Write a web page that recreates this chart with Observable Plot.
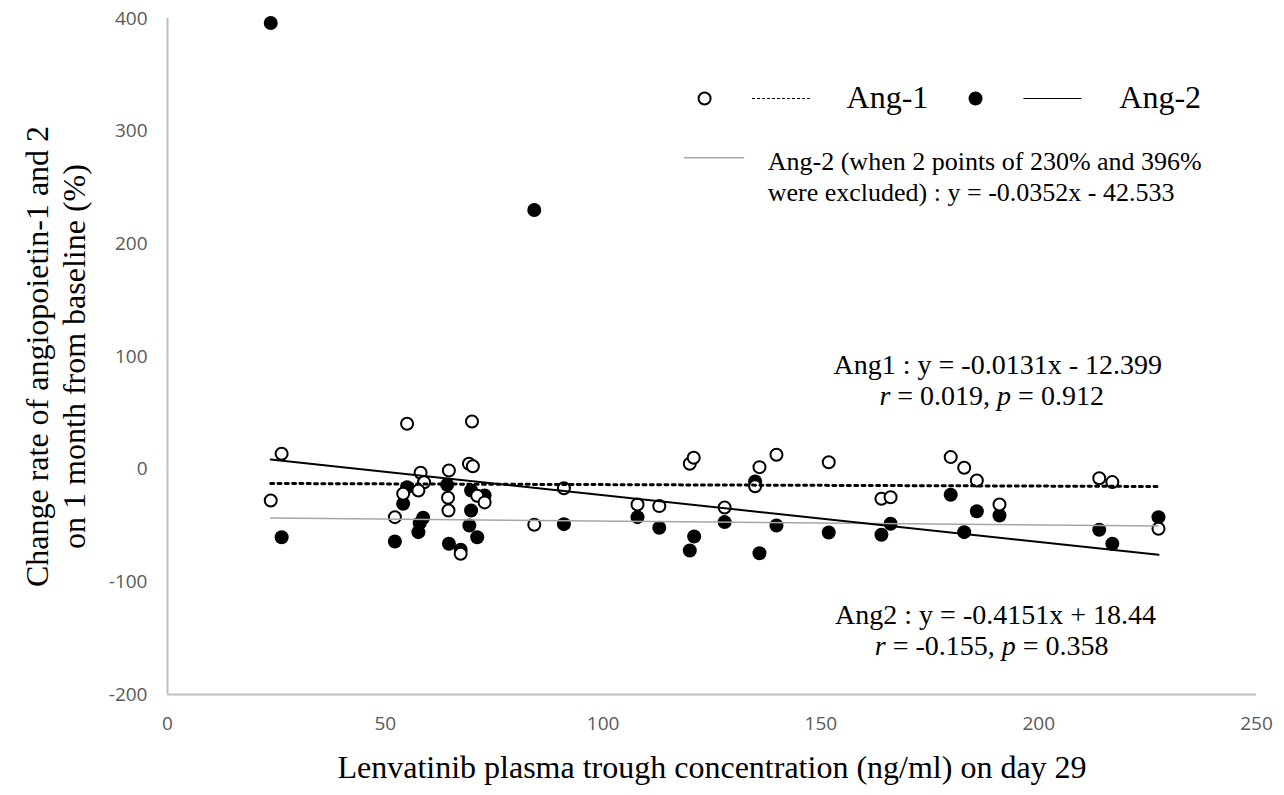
<!DOCTYPE html>
<html><head><meta charset="utf-8">
<style>body{margin:0;background:#fff} svg{display:block}</style>
<script src="https://cdn.jsdelivr.net/npm/d3@7"></script>
<script src="https://cdn.jsdelivr.net/npm/@observablehq/plot@0.6"></script>
</head><body><div id="chart"></div><script>
// Ang-1 (open circles)
const ang1X = [26.2,23.7,55.0,69.9,58.1,58.9,57.6,54.1,52.2,64.6,64.4,64.5,69.2,70.1,71.1,72.8,67.3,84.2,91.0,107.9,112.9,119.9,120.8,127.9,135.9,134.9,139.8,151.8,163.9,166.0,179.8,182.9,185.8,191.0,213.9,216.9,227.5];
const ang1Y = [13.7,-27.8,40.3,42.3,-3.2,-11.6,-18.9,-21.8,-42.6,-1.2,-25.4,-36.7,4.8,2.6,-23.6,-29.5,-75.1,-49.3,-16.9,-31.3,-32.8,4.8,10.1,-34.0,1.8,-15.1,12.8,6.2,-26.3,-24.9,10.7,1.2,-10.0,-31.3,-8.0,-11.5,-52.9];
// Ang-2 (filled circles)
const ang2X = [26.2,52.2,55.0,54.1,58.7,57.9,57.6,64.2,64.6,67.3,69.7,72.8,69.7,69.3,71.1,23.7,84.2,91.0,107.9,112.9,120.9,119.9,127.9,134.9,135.9,139.8,151.8,163.9,166.0,179.8,182.9,185.8,191.0,213.9,216.9,227.5];
const ang2Y = [-60.4,-64.2,-16.0,-30.7,-43.1,-47.9,-55.9,-13.8,-66.2,-71.5,-18.9,-23.3,-36.7,-50.0,-60.4,396,230,-48.8,-42.6,-52.0,-59.7,-72.2,-47.0,-10.9,-74.6,-50.0,-56.2,-58.2,-48.5,-22.7,-55.9,-37.3,-41.1,-53.8,-66.2,-42.6];
// Trend lines (from the printed equations)
const fitNames = ["Ang1","Ang2","Ang2excl"];
const fitSlopes = [-0.0131,-0.4151,-0.0352];
const fitIntercepts = [-12.399,18.44,-42.533];
// Ticks
const xTicks = [0,50,100,150,200,250];
const yTicks = [-200,-100,0,100,200,300,400];
// Texts
const xTitle = "Lenvatinib plasma trough concentration (ng/ml) on day 29";
const yTitle = "Change rate of angiopoietin-1 and 2\non 1 month from baseline (%)";
const statLines = ["Ang1 : y = -0.0131x - 12.399","r = 0.019, p = 0.912","Ang2 : y = -0.4151x + 18.44","r = -0.155, p = 0.358"];
const legendLabels = ["Ang-1","Ang-2"];
const greyLegend = ["Ang-2 (when 2 points of 230% and 396%","were excluded) : y = -0.0352x - 42.533"];

const ang1 = ang1X.map((x,i)=>({x, y: ang1Y[i]}));
const ang2 = ang2X.map((x,i)=>({x, y: ang2Y[i]}));
const allX = ang1X.concat(ang2X);
const xMin = d3.min(allX), xMax = d3.max(allX);
const fits = fitNames.map((n,i)=>[xMin,xMax].map(x=>({name:n, x, y: fitSlopes[i]*x + fitIntercepts[i]})));

const serif = "'Liberation Serif','Times New Roman',serif";
const sans = "'Open Sans','Noto Sans',sans-serif";
const fmt = d => String(d);

const chart = Plot.plot({
  width: 1284, height: 795,
  marginLeft: 167, marginRight: 28, marginTop: 18, marginBottom: 101,
  style: {background: "#fff", overflow: "visible"},
  x: {domain: [0, 250]},
  y: {domain: [-200, 400]},
  marks: [
    Plot.ruleX([0], {y1: -200, y2: 400, stroke: "#c0c0c0", strokeWidth: 2}),
    Plot.ruleY([-200], {x1: 0, x2: 250, stroke: "#c0c0c0", strokeWidth: 2}),
    Plot.axisX({ticks: xTicks, tickFormat: fmt, tickSize: 0, tickPadding: 22, label: null, color: "#595959", fontSize: 19, fontFamily: sans}),
    Plot.axisY({ticks: yTicks, tickFormat: fmt, tickSize: 0, tickPadding: 20, label: null, color: "#595959", fontSize: 19, fontFamily: sans}),
    Plot.dot(ang2, {x: "x", y: "y", r: 7, fill: "black", stroke: "none"}),
    Plot.dot(ang1, {x: "x", y: "y", r: 6, fill: "white", stroke: "black", strokeWidth: 2}),
    Plot.line(fits[2], {x: "x", y: "y", stroke: "#a6a6a6", strokeWidth: 1.5}),
    Plot.line(fits[0], {x: "x", y: "y", stroke: "black", strokeWidth: 3, strokeDasharray: "3,4.3"}),
    Plot.line(fits[1], {x: "x", y: "y", stroke: "black", strokeWidth: 2}),
    // legend
    Plot.dot([{x: 123.3, y: 329}], {x: "x", y: "y", r: 6, fill: "white", stroke: "black", strokeWidth: 2}),
    Plot.ruleY([329], {x1: 134.3, x2: 147.9, stroke: "black", strokeWidth: 1.2, strokeDasharray: "3,2"}),
    Plot.text([legendLabels[0]], {x: 155.9, y: 329.9, textAnchor: "start", fontSize: 32, fontFamily: serif, fill: "black"}),
    Plot.dot([{x: 185.5, y: 329}], {x: "x", y: "y", r: 7, fill: "black"}),
    Plot.ruleY([329], {x1: 196.6, x2: 209.9, stroke: "black", strokeWidth: 1.2}),
    Plot.text([legendLabels[1]], {x: 218.5, y: 329.9, textAnchor: "start", fontSize: 32, fontFamily: serif, fill: "black"}),
    Plot.ruleY([276.5], {x1: 118.7, x2: 132.5, stroke: "#a6a6a6", strokeWidth: 1.5}),
    Plot.text([greyLegend[0]], {x: 137.8, y: 273.2, textAnchor: "start", fontSize: 26, fontFamily: serif, fill: "black"}),
    Plot.text([greyLegend[1]], {x: 137.8, y: 245.7, textAnchor: "start", fontSize: 26, fontFamily: serif, fill: "black"}),
    // statistics
    Plot.text([statLines[0]], {x: 190.6, y: 92.8, fontSize: 28, fontFamily: serif, fill: "black"}),
    Plot.text([statLines[1]], {x: 189.2, y: 64.9, fontSize: 28, fontFamily: serif, fill: "black"}),
    Plot.text([statLines[2]], {x: 190.1, y: -129.2, fontSize: 28, fontFamily: serif, fill: "black"}),
    Plot.text([statLines[3]], {x: 189.2, y: -156.9, fontSize: 28, fontFamily: serif, fill: "black"}),
    // axis titles
    Plot.text([xTitle], {frameAnchor: "bottom", dy: 83, textAnchor: "middle", fontSize: 32, fontFamily: serif, fill: "black"}),
    Plot.text([yTitle], {frameAnchor: "left", dx: -113, textAnchor: "middle", rotate: -90, fontSize: 32, lineHeight: 1.15, fontFamily: serif, fill: "black"})
  ]
});
document.getElementById("chart").appendChild(chart);

// italicise r and p in the statistics lines
d3.select(chart).selectAll("text").each(function() {
  if (this.querySelector("tspan")) return;
  const s = this.textContent;
  if (!/^r = /.test(s)) return;
  const parts = s.split(/\b([rp])(?= =)/);
  this.textContent = "";
  parts.forEach(p => {
    if (!p) return;
    const ts = d3.select(this).append("tspan").text(p);
    if (p === "r" || p === "p") ts.attr("font-style", "italic");
  });
});
</script></body></html>
